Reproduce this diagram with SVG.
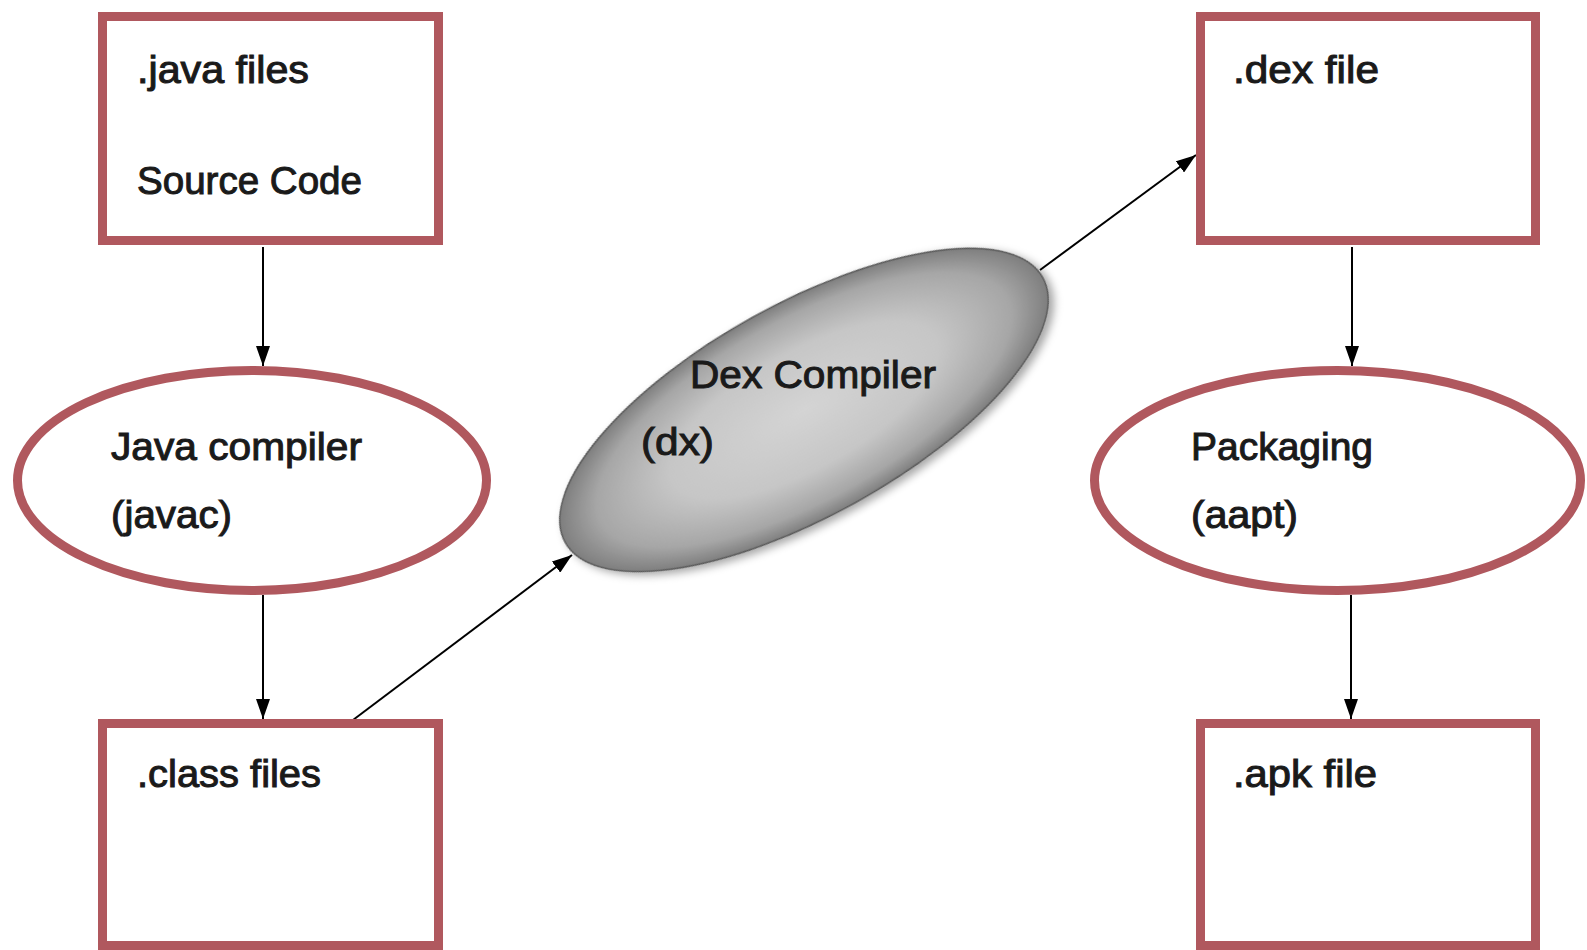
<svg xmlns="http://www.w3.org/2000/svg" width="1587" height="950" viewBox="0 0 1587 950">
  <style>
    .box { fill: #ffffff; stroke: #b0585e; stroke-width: 9; }
    .oval { fill: #ffffff; stroke: #b0585e; stroke-width: 9; }
    .lbl { font-family: "Liberation Sans", Arial, sans-serif; font-size: 38px; fill: #1a1a1a; stroke: #1a1a1a; stroke-width: 1; }
    .conn { stroke: #000000; stroke-width: 2; fill: none; marker-end: url(#arrow); }
  </style>
  <defs>
    <marker id="arrow" viewBox="0 0 20 14" refX="20" refY="7" markerWidth="20" markerHeight="14" markerUnits="userSpaceOnUse" orient="auto">
      <path d="M0,0 L20,7 L0,14 z" fill="#000000"/>
    </marker>
    <radialGradient id="dexGrad" cx="0.5" cy="0.5" r="0.5">
      <stop offset="0" stop-color="#d4d4d4"/>
      <stop offset="0.55" stop-color="#c6c6c6"/>
      <stop offset="0.85" stop-color="#a6a6a6"/>
      <stop offset="1" stop-color="#7e7e7e"/>
    </radialGradient>
    <filter id="shadow" x="-20%" y="-40%" width="140%" height="180%">
      <feDropShadow dx="3" dy="5" stdDeviation="4" flood-color="#000000" flood-opacity="0.35"/>
    </filter>
  </defs>
  <rect width="1587" height="950" fill="#ffffff"/>

  <g id="connectors">
    <line class="conn" x1="263" y1="247" x2="263" y2="366"/>
    <line class="conn" x1="263" y1="595" x2="263" y2="719"/>
    <line class="conn" x1="353" y1="720" x2="572" y2="555"/>
    <line class="conn" x1="1040" y1="270" x2="1196" y2="155"/>
    <line class="conn" x1="1352" y1="247" x2="1352" y2="366"/>
    <line class="conn" x1="1351" y1="595" x2="1351" y2="719"/>
  </g>

  <g id="java-files">
    <rect class="box" x="102.5" y="16.5" width="336" height="224"/>
    <text class="lbl" x="137" y="83" textLength="172" lengthAdjust="spacingAndGlyphs">.java files</text>
    <text class="lbl" x="137" y="194" textLength="225" lengthAdjust="spacingAndGlyphs">Source Code</text>
  </g>

  <g id="java-compiler">
    <ellipse class="oval" cx="252" cy="480.5" rx="234.5" ry="110"/>
    <text class="lbl" x="111" y="460" textLength="251" lengthAdjust="spacingAndGlyphs">Java compiler</text>
    <text class="lbl" x="111" y="528" textLength="121" lengthAdjust="spacingAndGlyphs">(javac)</text>
  </g>

  <g id="class-files">
    <rect class="box" x="102.5" y="723.5" width="336" height="222"/>
    <text class="lbl" x="137" y="787" textLength="184" lengthAdjust="spacingAndGlyphs">.class files</text>
  </g>

  <g id="dex-compiler">
    <g transform="translate(804 410) rotate(-29)">
      <ellipse cx="0" cy="0" rx="273" ry="106" fill="url(#dexGrad)" stroke="#5a5a5a" stroke-width="1.5" filter="url(#shadow)"/>
    </g>
    <text class="lbl" x="690" y="388" textLength="246" lengthAdjust="spacingAndGlyphs">Dex Compiler</text>
    <text class="lbl" x="641" y="455" textLength="73" lengthAdjust="spacingAndGlyphs">(dx)</text>
  </g>

  <g id="dex-file">
    <rect class="box" x="1200.5" y="16.5" width="335" height="224"/>
    <text class="lbl" x="1233" y="83" textLength="146" lengthAdjust="spacingAndGlyphs">.dex file</text>
  </g>

  <g id="packaging">
    <ellipse class="oval" cx="1337.5" cy="480.5" rx="243" ry="110"/>
    <text class="lbl" x="1191" y="460" textLength="182" lengthAdjust="spacingAndGlyphs">Packaging</text>
    <text class="lbl" x="1191" y="528" textLength="107" lengthAdjust="spacingAndGlyphs">(aapt)</text>
  </g>

  <g id="apk-file">
    <rect class="box" x="1200.5" y="723.5" width="335" height="222"/>
    <text class="lbl" x="1233" y="787" textLength="144" lengthAdjust="spacingAndGlyphs">.apk file</text>
  </g>
</svg>
